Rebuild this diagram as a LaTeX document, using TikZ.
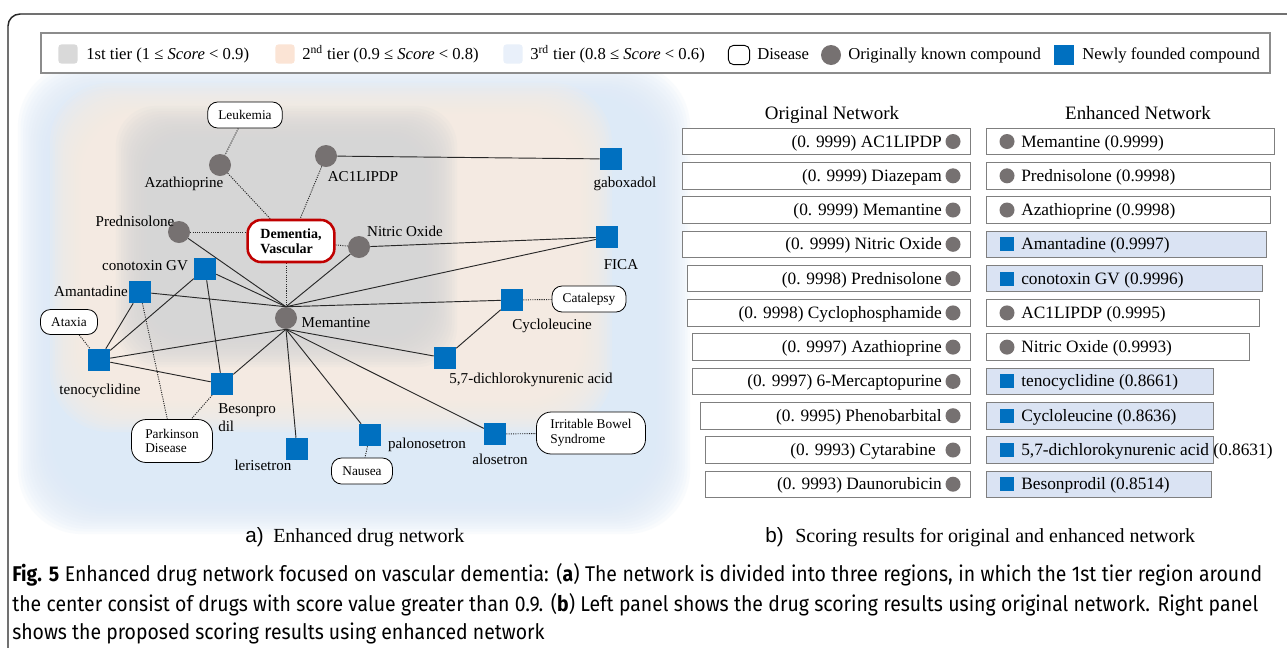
\documentclass[tikz,border=0pt]{standalone}
\usepackage{fontspec}
\setmainfont{Liberation Serif}
\newfontfamily\capfont[FakeStretch=0.91]{Fira Sans}
\newfontfamily\abfont{Liberation Sans}
\usetikzlibrary{backgrounds}
\pgfdeclarelayer{blob}
\pgfdeclarelayer{edge}
\pgfsetlayers{blob,edge,main}
\definecolor{kgray}{RGB}{118,113,113}
\definecolor{nblue}{RGB}{0,112,192}
\definecolor{dred}{RGB}{192,0,0}
\definecolor{tgray}{RGB}{214,214,214}
\definecolor{tpeach}{RGB}{250,236,226}
\definecolor{tblue}{RGB}{221,234,247}
\definecolor{lgpeach}{RGB}{251,228,213}
\definecolor{lgblue}{RGB}{233,240,250}
\definecolor{lggray}{RGB}{217,217,217}
\definecolor{hlblue}{RGB}{218,227,243}
\definecolor{bgray}{RGB}{127,127,127}
\definecolor{lngray}{RGB}{40,40,40}
\newcommand{\blob}[6]{%
  \foreach \k in {0,...,17}{%
    \pgfmathsetmacro{\dd}{(\k-8.5)*2.6}%
    \fill[#1, fill opacity=0.15, rounded corners=#6] (#2+\dd,#3+\dd) rectangle (#4-\dd,#5-\dd);
  }}
\newcommand{\orow}[5]{%
  \draw[bgray, line width=0.6pt, fill=white] (#3,#2-13.25) rectangle (970,#2+13.25);
  \node[rowtxt, anchor=base east] (#1) at (#4,#2+5.5) {#5};
  \node[known, minimum size=11.25pt] (#1m) at (953,#2) {};
}
\newcommand{\erow}[6]{%
  \draw[bgray, line width=0.6pt, fill=#4] (986,#2-13.25) rectangle (#3,#2+13.25);
  \node[#5] (#1m) at (1007,#2) {};
  \node[rowtxt, anchor=base west] (#1) at (1021,#2+5.5) {#6};
}
\begin{document}
\begin{tikzpicture}[x=0.75pt,y=-0.75pt,
  known/.style={circle, fill=kgray, minimum size=16.5pt, inner sep=0pt},
  newc/.style={rectangle, fill=nblue, minimum size=16.5pt, inner sep=0pt},
  rknown/.style={circle, fill=kgray, minimum size=11.25pt, inner sep=0pt},
  rnew/.style={rectangle, fill=nblue, minimum size=10.5pt, inner sep=0pt},
  dis/.style={draw=black, line width=0.6pt, fill=white, rounded corners=7.5pt, font=\fontsize{10}{11}\selectfont, inner sep=0pt, align=left},
  dem/.style={draw=dred, line width=1.9pt, fill=white, rounded corners=10pt, font=\fontsize{10.5}{11.5}\selectfont\bfseries, inner sep=0pt, align=left, minimum width=65pt, minimum height=31.5pt},
  lab/.style={font=\fontsize{11.3}{13}\selectfont, inner sep=0pt, anchor=base},
  rowtxt/.style={font=\fontsize{13}{15}\selectfont, inner sep=0pt},
  leg/.style={font=\fontsize{12.5}{14}\selectfont, inner sep=0pt, anchor=base west},
  sol/.style={draw=lngray, line width=0.7pt},
  dot/.style={draw=lngray, line width=0.7pt, dash pattern=on 0.8pt off 0.9pt},
  capl/.style={font=\capfont\fontsize{16}{18}\selectfont, inner sep=0pt, anchor=base west}
]
\useasboundingbox (0,0) rectangle (1287,647);
\begin{pgfonlayer}{blob}
  \fill[white] (0,0) rectangle (1287,647);
  \blob{tblue}{40}{85}{668}{512}{48pt}
  \blob{tpeach}{72}{105}{590}{410}{45pt}
  \blob{tgray}{138}{128}{435}{345}{30pt}
\end{pgfonlayer}
% frame
\begin{scope}
  \clip (0,0) rectangle (1287,647);
  \draw[line width=1.1pt, black!85, rounded corners=9pt] (8,14) rectangle (1330,690);
\end{scope}
% legend
\draw[black!45, line width=0.8pt, fill=white] (41,33) rectangle (1270,73);
\node[fill=lggray, rounded corners=2.5pt, minimum size=14.5pt, inner sep=0pt] (lg1) at (68,54) {};
\node[leg] (lt1) at (86,59) {1st tier (1 ≤ \textit{Score} < 0.9)};
\node[fill=lgpeach, rounded corners=2.5pt, minimum size=14.5pt, inner sep=0pt] (lg2) at (285,54) {};
\node[leg] (lt2) at (302,59) {2\textsuperscript{nd} tier (0.9 ≤ \textit{Score} < 0.8)};
\node[fill=lgblue, rounded corners=2.5pt, minimum size=14.5pt, inner sep=0pt] (lg3) at (513,54) {};
\node[leg] (lt3) at (530,59) {3\textsuperscript{rd} tier (0.8 ≤ \textit{Score} < 0.6)};
\node[draw=black, line width=0.7pt, rounded corners=4pt, minimum width=16pt, minimum height=14.5pt, inner sep=0pt] (lg4) at (739,55) {};
\node[leg] (lt4) at (757,59) {Disease};
\node[known, minimum size=15pt] (lg5) at (831,55) {};
\node[leg] (lt5) at (848,59) {Originally known compound};
\node[fill=nblue, minimum size=14.5pt, inner sep=0pt] (lg6) at (1064,55) {};
\node[leg] (lt6) at (1082,59) {Newly founded compound};

% network nodes
\node[dis, minimum width=56pt, minimum height=19.5pt] (leuk) at (245,115) {Leukemia};
\node[known] (aza) at (220,165) {};
\node[known] (ac1) at (326,156) {};
\node[newc] (gab) at (611,159) {};
\node[known] (pred) at (179,232) {};
\node[dem] (dem) at (291,241) {Dementia,\\Vascular};
\node[known] (no) at (359,247) {};
\node[newc] (fica) at (607,237) {};
\node[newc] (cono) at (205,269) {};
\node[newc] (aman) at (140,292) {};
\node[known] (mem) at (286,318) {};
\node[dis, minimum width=55.5pt, minimum height=19.5pt] (cat) at (589,299) {Catalepsy};
\node[newc] (cyc) at (512,300) {};
\node[dis, minimum width=42.75pt, minimum height=18.75pt] (atx) at (69,322) {Ataxia};
\node[newc] (teno) at (99,360) {};
\node[newc] (dich) at (445,358) {};
\node[newc] (beso) at (222,384) {};
\node[dis, minimum width=60.75pt, minimum height=32.25pt, rounded corners=11pt] (park) at (172,441) {Parkinson\\Disease};
\node[newc] (leri) at (297,449) {};
\node[newc] (palo) at (370,435) {};
\node[dis, minimum width=45.75pt, minimum height=19.5pt] (naus) at (362,471) {Nausea};
\node[newc] (alo) at (495,434) {};
\node[dis, minimum width=81.75pt, minimum height=31.5pt, rounded corners=11pt] (ibs) at (591,433) {Irritable Bowel\\Syndrome};

% labels
\node[lab] (lAza) at (184,187) {Azathioprine};
\node[lab] (lAc1) at (363,181) {AC1LIPDP};
\node[lab] (lGab) at (625,187) {gaboxadol};
\node[lab] (lPred) at (135,226) {Prednisolone};
\node[lab] (lNo) at (405,236) {Nitric Oxide};
\node[lab] (lFica) at (621,269) {FICA};
\node[lab] (lCono) at (145,270) {conotoxin GV};
\node[lab] (lAman) at (91,296) {Amantadine};
\node[lab] (lMem) at (336,327) {Memantine};
\node[lab] (lCyc) at (552,329) {Cycloleucine};
\node[lab] (lTeno) at (100,394) {tenocyclidine};
\node[lab] (lDich) at (531,383) {5,7-dichlorokynurenic acid};
\node[lab, anchor=base west] (lBeso1) at (218,413) {Besonpro};
\node[lab, anchor=base west] (lBeso2) at (218,431) {dil};
\node[lab] (lLeri) at (263,470) {lerisetron};
\node[lab] (lPalo) at (427,448) {palonosetron};
\node[lab] (lAlo) at (500,464) {alosetron};

% edges
\begin{pgfonlayer}{edge}
  \draw[sol] (ac1) -- (gab);
  \draw[sol] (no) -- (fica);
  \draw[sol] (pred) -- (mem.north);
  \draw[sol] (no) -- (mem.north);
  \draw[sol] (fica) -- (mem.north);
  \draw[sol] (cono) -- (mem.north);
  \draw[sol] (aman) -- (mem.north);
  \draw[sol] (cyc) -- (mem.north);
  \draw[sol] (aman) -- (teno);
  \draw[sol] (cono) -- (teno);
  \draw[sol] (cono) -- (beso);
  \draw[sol] (teno) -- (mem.south);
  \draw[sol] (teno) -- (beso);
  \draw[sol] (mem.south) -- (beso);
  \draw[sol] (mem.south) -- (leri);
  \draw[sol] (mem.south) -- (palo);
  \draw[sol] (mem.south) -- (dich);
  \draw[sol] (mem.south) -- (alo);
  \draw[sol] (cyc) -- (dich);
  \draw[dot] (leuk) -- (aza);
  \draw[dot] (aza) -- (dem);
  \draw[dot] (ac1) -- (dem);
  \draw[dot] (pred) -- (pred -| dem.west);
  \draw[dot] (dem) -- (no);
  \draw[dot] (dem.south -| mem) -- (mem.north);
  \draw[dot] (cat) -- (cyc);
  \draw[dot] (atx) -- (teno);
  \draw[dot] (aman) -- (park);
  \draw[dot] (beso) -- (park);
  \draw[dot] (palo) -- (naus);
  \draw[dot] (alo) -- (ibs);
\end{pgfonlayer}

% right panel
\node[font=\fontsize{14.2}{16}\selectfont, inner sep=0pt, anchor=base] (hOrig) at (832,119) {Original Network};
\node[font=\fontsize{14.2}{16}\selectfont, inner sep=0pt, anchor=base] (hEnh) at (1138,119) {Enhanced Network};
\orow{o1}{141.5}{682}{942}{(0. 9999) AC1LIPDP}
\orow{o2}{175.8}{682}{942}{(0. 9999) Diazepam}
\orow{o3}{210.0}{682}{942}{(0. 9999) Memantine}
\orow{o4}{244.3}{682}{942}{(0. 9999) Nitric Oxide}
\orow{o5}{278.6}{687}{942}{(0. 9998) Prednisolone}
\orow{o6}{312.9}{687}{942}{(0. 9998) Cyclophosphamide}
\orow{o7}{347.1}{692}{942}{(0. 9997) Azathioprine}
\orow{o8}{381.4}{692}{942}{(0. 9997) 6-Mercaptopurine}
\orow{o9}{415.7}{700}{942}{(0. 9995) Phenobarbital}
\orow{o10}{450.0}{705}{936}{(0. 9993) Cytarabine}
\orow{o11}{484.2}{705}{942}{(0. 9993) Daunorubicin}
\erow{e1}{141.5}{1274}{white}{rknown}{Memantine (0.9999)}
\erow{e2}{175.8}{1270}{white}{rknown}{Prednisolone (0.9998)}
\erow{e3}{210.0}{1270}{white}{rknown}{Azathioprine (0.9998)}
\erow{e4}{244.3}{1266}{hlblue}{rnew}{Amantadine (0.9997)}
\erow{e5}{278.6}{1262}{hlblue}{rnew}{conotoxin GV (0.9996)}
\erow{e6}{312.9}{1259}{white}{rknown}{AC1LIPDP (0.9995)}
\erow{e7}{347.1}{1249}{white}{rknown}{Nitric Oxide (0.9993)}
\erow{e8}{381.4}{1213}{hlblue}{rnew}{tenocyclidine (0.8661)}
\erow{e9}{415.7}{1213}{hlblue}{rnew}{Cycloleucine (0.8636)}
\erow{e10}{450.0}{1213}{hlblue}{rnew}{5,7-dichlorokynurenic acid (0.8631)}
\erow{e11}{484.2}{1211}{hlblue}{rnew}{Besonprodil (0.8514)}

% sub-captions
\node[font=\abfont\fontsize{15.5}{17}\selectfont, inner sep=0pt, anchor=base west] (ca) at (245,542) {a)};
\node[font=\fontsize{15}{17}\selectfont, inner sep=0pt, anchor=base west] (cat2) at (273,542) {Enhanced drug network};
\node[font=\abfont\fontsize{15.5}{17}\selectfont, inner sep=0pt, anchor=base west] (cb) at (765,542) {b)};
\node[font=\fontsize{15}{17}\selectfont, inner sep=0pt, anchor=base west] (cbt) at (795,542) {Scoring results for original and enhanced network};

% caption
\node[capl] (cap1) at (12,581) {\makebox[937.5pt][s]{\textbf{Fig. 5} Enhanced drug network focused on vascular dementia: (\textbf{a}) The network is divided into three regions, in which the 1st tier region around}};
\node[capl] (cap2) at (12,611) {\makebox[934.5pt][s]{the center consist of drugs with score value greater than 0.9. (\textbf{b}) Left panel shows the drug scoring results using original network. Right panel}};
\node[capl] (cap3) at (12,639) {shows the proposed scoring results using enhanced network};
\end{tikzpicture}
\end{document}
